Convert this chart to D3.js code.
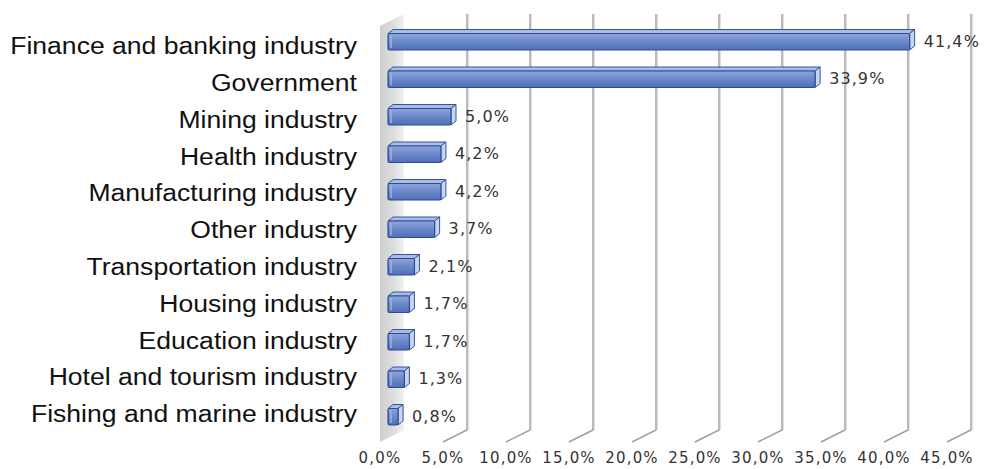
<!DOCTYPE html>
<html>
<head>
<meta charset="utf-8">
<script src="https://cdn.jsdelivr.net/npm/d3@7"></script>
<style>
  body { margin: 0; background: #fff; }
  svg { display: block; }
</style>
</head>
<body>
<svg width="990" height="469"></svg>
<script>
// data
const categories = [
  'Finance and banking industry', 'Government', 'Mining industry', 'Health industry',
  'Manufacturing industry', 'Other industry', 'Transportation industry', 'Housing industry',
  'Education industry', 'Hotel and tourism industry', 'Fishing and marine industry'
]
const values = [41.4, 33.9, 5.0, 4.2, 4.2, 3.7, 2.1, 1.7, 1.7, 1.3, 0.8]
const ticks = [0, 5, 10, 15, 20, 25, 30, 35, 40, 45]

const fmt = v => v.toFixed(1).replace('.', ',') + '%'

const svg = d3.select('svg')

// back plane scale, bars sit a bit forward, tick labels at the floor front
const x = d3.scaleLinear().domain([0, 45]).range([404, 971])
const barShift = -16
const floor = { dx: -24, dy: 12 }
const depth = { dx: 5, dy: -4 }
const plotTop = 14, plotBottom = 430

const y = d3.scaleBand().domain(categories).range([23, 435.5]).paddingInner(0.56).paddingOuter(0.28)
const yLabel = d3.scalePoint().domain(categories).range([46, 414])

const defs = svg.append('defs')
const front = defs.append('linearGradient').attr('id', 'front').attr('x1', 0).attr('x2', 0).attr('y1', 0).attr('y2', 1)
front.append('stop').attr('offset', '0%').attr('stop-color', '#8ea6dc')
front.append('stop').attr('offset', '45%').attr('stop-color', '#6d8acb')
front.append('stop').attr('offset', '100%').attr('stop-color', '#4f6fb5')
const wall = defs.append('linearGradient').attr('id', 'wall').attr('x1', 0).attr('x2', 1).attr('y1', 0).attr('y2', 0)
wall.append('stop').attr('offset', '0%').attr('stop-color', '#cfcfcf')
wall.append('stop').attr('offset', '60%').attr('stop-color', '#dedede')
wall.append('stop').attr('offset', '100%').attr('stop-color', '#f2f2f2')

// left wall
svg.append('path')
  .attr('d', `M${x(0) + floor.dx},${plotTop + floor.dy}L${x(0)},${plotTop}L${x(0)},${plotBottom}L${x(0) + floor.dx},${plotBottom + floor.dy}Z`)
  .attr('fill', 'url(#wall)')

// gridlines and floor lines
const grid = svg.append('g')
grid.selectAll('path.grid')
  .data(ticks.filter(t => t > 0))
  .join('path')
    .attr('class', 'grid')
    .attr('d', t => `M${x(t)},${plotTop}L${x(t)},${plotBottom}L${x(t) + floor.dx},${plotBottom + floor.dy}`)
    .attr('fill', 'none')
    .attr('stroke', '#9e9e9e')
    .attr('stroke-width', 1.4)
grid.selectAll('line.hl')
  .data(ticks.filter(t => t > 0))
  .join('line')
    .attr('class', 'hl')
    .attr('x1', t => x(t) + 1.5).attr('x2', t => x(t) + 1.5)
    .attr('y1', plotTop).attr('y2', plotBottom)
    .attr('stroke', '#e0e0e0')
    .attr('stroke-width', 1)

// bars
const bars = svg.append('g').selectAll('g')
  .data(categories.map((c, i) => ({ c, v: values[i] })))
  .join('g')

const x0 = x(0) + barShift
const xe = d => x(d.v) + barShift

bars.append('path')
  .attr('d', d => {
    const y0 = y(d.c)
    return `M${x0},${y0}L${x0 + depth.dx},${y0 + depth.dy}L${xe(d) + depth.dx},${y0 + depth.dy}L${xe(d)},${y0}Z`
  })
  .attr('fill', '#a9bce6')
  .attr('stroke', '#34559a')
  .attr('stroke-width', 1)

bars.append('path')
  .attr('d', d => {
    const y0 = y(d.c), y1 = y0 + y.bandwidth(), xr = xe(d)
    return `M${xr},${y0}L${xr + depth.dx},${y0 + depth.dy}L${xr + depth.dx},${y1 + depth.dy}L${xr},${y1}Z`
  })
  .attr('fill', '#c8d5f1')
  .attr('stroke', '#34559a')
  .attr('stroke-width', 1)

bars.append('rect')
  .attr('x', x0)
  .attr('y', d => y(d.c))
  .attr('width', d => xe(d) - x0)
  .attr('height', y.bandwidth())
  .attr('rx', 1.5)
  .attr('fill', 'url(#front)')
  .attr('stroke', '#2e4d90')
  .attr('stroke-width', 1.2)

bars.append('line')
  .attr('x1', x0 + 3).attr('x2', x0 + 3)
  .attr('y1', d => y(d.c) + 2).attr('y2', d => y(d.c) + y.bandwidth() - 2)
  .attr('stroke', '#9fb4e2')
  .attr('stroke-width', 1.5)

// value labels
bars.append('text')
  .attr('x', d => xe(d) + depth.dx + 9)
  .attr('y', d => y(d.c) + y.bandwidth() / 2 - 1)
  .attr('dy', '0.36em')
  .attr('font-family', 'DejaVu Sans')
  .attr('font-size', 16)
  .attr('letter-spacing', 1.1)
  .attr('fill', '#333')
  .text(d => fmt(d.v))

// category labels (slightly wide lettering, as in the source)
svg.append('g')
    .attr('transform', 'translate(357,0) scale(1.13,1)')
  .selectAll('text')
  .data(categories)
  .join('text')
    .attr('x', 0)
    .attr('y', c => yLabel(c))
    .attr('dy', '0.35em')
    .attr('text-anchor', 'end')
    .attr('font-family', 'Liberation Sans, Arial, sans-serif')
    .attr('font-size', 23.5)
    .attr('fill', '#111')
    .text(c => c)

// axis tick labels
svg.append('g').selectAll('text')
  .data(ticks)
  .join('text')
    .attr('x', t => x(t) + floor.dx)
    .attr('y', 458)
    .attr('dy', '0.36em')
    .attr('text-anchor', 'middle')
    .attr('font-family', 'DejaVu Sans')
    .attr('font-size', 15)
    .attr('letter-spacing', 1.2)
    .attr('fill', '#333')
    .text(t => fmt(t))
</script>
</body>
</html>
